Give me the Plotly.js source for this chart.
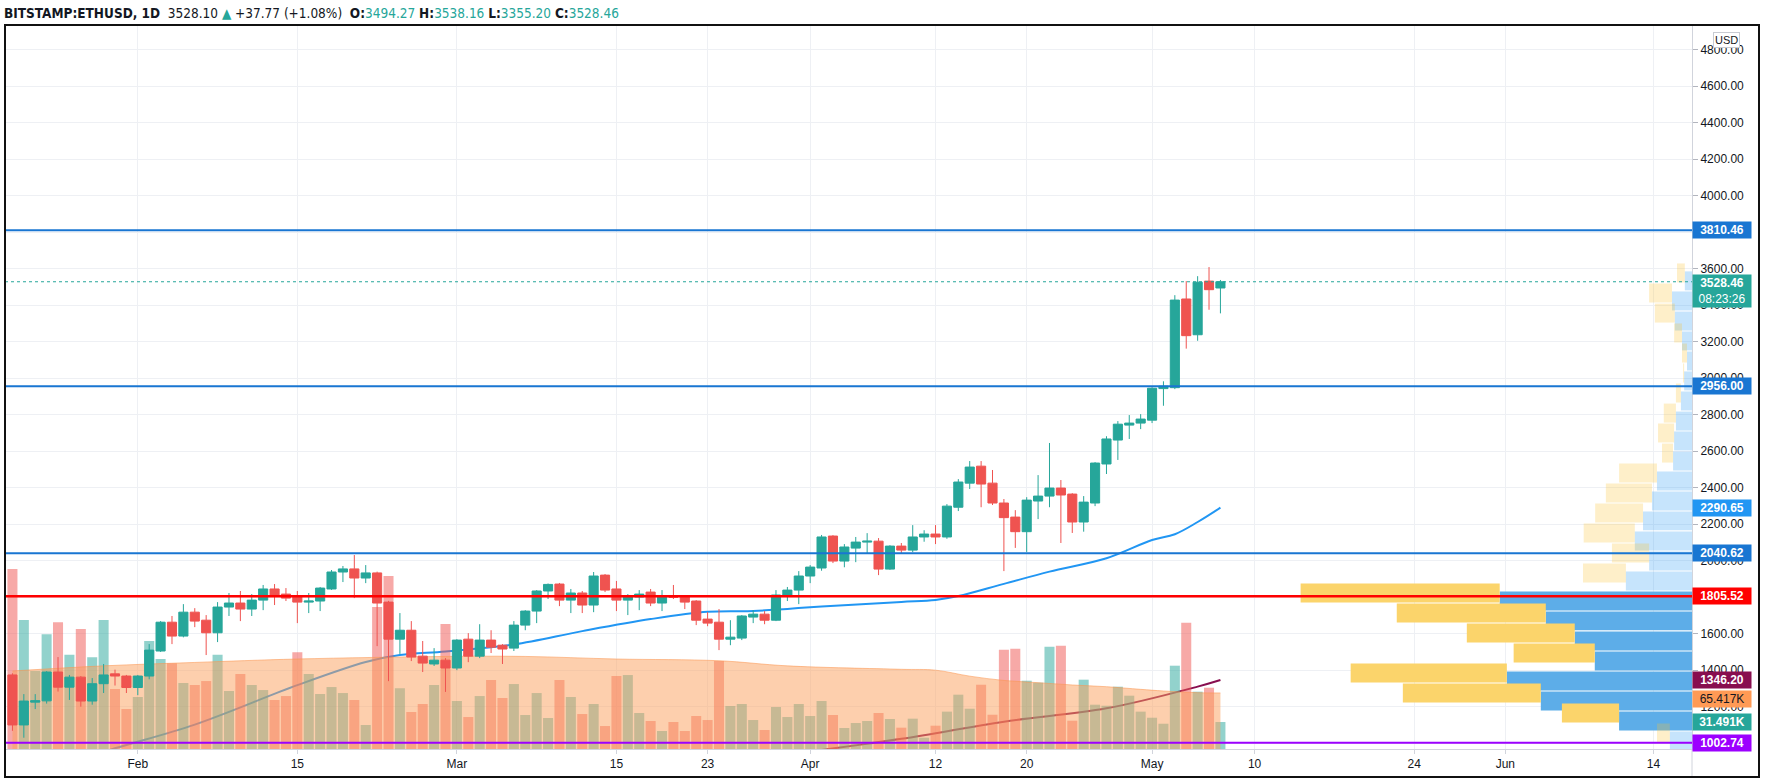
<!DOCTYPE html>
<html><head><meta charset="utf-8">
<script src="https://cdn.plot.ly/plotly-3.0.1.min.js"></script>
<style>html,body{margin:0;padding:0;background:#fff;}#chart{width:1765px;height:784px;}</style>
</head><body><div id="chart"></div>
<script>
// ---- DATA (BITSTAMP:ETHUSD, 1D, 2021-01-21 .. 2021-05-07) ----
const firstDay = '2021-01-21';
const open = [1374,1100,1225,1232,1390,1307,1362,1231,1326,1380,1368,1305,1368,1505,1663,1587,1718,1674,1605,1746,1768,1735,1784,1845,1817,1801,1773,1779,1845,1938,1955,1905,1933,1773,1570,1619,1477,1434,1455,1412,1570,1477,1565,1537,1521,1647,1724,1834,1872,1784,1823,1757,1921,1845,1784,1801,1828,1768,1806,1801,1779,1680,1663,1570,1576,1691,1707,1674,1812,1839,1916,1960,2135,1998,2069,2102,2107,1954,2080,2058,2130,2146,2130,2293,2425,2518,2425,2316,2239,2159,2327,2354,2398,2365,2212,2316,2530,2661,2743,2754,2770,2943,2948,3434,3238,3532,3494.27];
const high = [1383,1269,1269,1395,1472,1374,1368,1357,1434,1403,1374,1374,1543,1669,1697,1762,1740,1702,1773,1823,1834,1817,1867,1872,1850,1834,1823,1856,1949,1971,2031,1976,1940,1780,1713,1669,1560,1521,1466,1570,1603,1652,1619,1543,1669,1729,1839,1875,1878,1845,1834,1938,1927,1889,1817,1839,1845,1839,1867,1812,1784,1718,1735,1674,1702,1729,1724,1839,1856,1943,1976,2141,2140,2091,2130,2151,2124,2085,2097,2195,2167,2195,2310,2447,2546,2546,2497,2338,2277,2348,2469,2645,2442,2370,2354,2540,2682,2765,2798,2803,2950,2983,3455,3532,3559,3609,3538.16];
const low = [1068,1030,1187,1217,1283,1237,1200,1211,1275,1316,1275,1263,1350,1500,1543,1580,1636,1483,1554,1697,1669,1697,1729,1757,1779,1658,1713,1724,1840,1883,1795,1877,1532,1340,1489,1450,1390,1423,1281,1400,1444,1466,1494,1434,1505,1619,1658,1790,1751,1713,1713,1718,1828,1724,1702,1729,1751,1724,1790,1735,1647,1641,1510,1537,1565,1658,1652,1669,1779,1762,1877,1945,1987,1964,1992,2042,1921,1950,2042,2047,2104,2091,2120,2272,2393,2293,2305,1943,2070,2048,2228,2293,2097,2152,2159,2299,2475,2552,2667,2721,2754,2849,2940,3162,3205,3375,3355.20];
const close = [1100,1231,1233,1390,1307,1362,1231,1326,1374,1368,1305,1368,1510,1663,1587,1718,1669,1605,1746,1768,1735,1784,1845,1806,1795,1773,1779,1850,1938,1955,1905,1933,1768,1570,1619,1472,1439,1455,1412,1565,1477,1565,1526,1516,1647,1724,1834,1870,1784,1823,1757,1916,1839,1784,1801,1817,1768,1806,1800,1773,1674,1658,1570,1581,1697,1707,1674,1812,1839,1916,1965,2130,1998,2075,2102,2107,1954,2080,2058,2130,2146,2130,2299,2431,2513,2420,2316,2236,2159,2332,2354,2398,2360,2212,2321,2535,2667,2748,2754,2776,2945,2956,3428,3233,3526,3485,3528.46];
// volume, thousands of ETH
const volume = [210,150.5,91,134,148,110,140,107,150.5,70,46.7,60.7,126,105,100,77,74.7,79.3,110,67.7,87.5,74.7,68.8,57.2,61.8,113,87.5,64.2,72.3,65.3,57.2,28,165.7,201.9,70.9,43.2,52.5,74.7,145.9,56,37.3,61.8,80.5,59.5,75.8,39.7,65.3,36.2,80.5,60.7,40.8,52.5,26.8,85.2,86.3,42,32.7,21,31.5,21,38.5,33.8,102.7,50.2,52.5,33.8,22.2,49,37.3,52.5,38.5,56,39.7,24.5,30.3,32.7,42,35,24.9,35.4,13.2,27.2,43.6,63.4,47,75,40,115.9,117,79.7,77.4,119.4,120.5,33,80.9,51.7,50.5,72.7,62.2,43.6,36.5,29.5,97.2,147.4,66.9,71.5,31.491];
// volume moving average (thousands)
const volMADates = ['2021-01-21','2021-01-29','2021-02-06','2021-02-15','2021-02-28','2021-03-07','2021-03-15','2021-03-24','2021-03-30','2021-04-09','2021-04-12','2021-04-15','2021-04-18','2021-04-21','2021-04-24','2021-04-27','2021-04-30','2021-05-02','2021-05-05','2021-05-07'];
const volMA = [91,97,101,105,108,108,105,103,97,93,92,85,80,77.4,74.7,72.7,69.6,67.7,65.7,65.417];
// price moving averages
const ma50Dates = ['2021-01-21','2021-01-30','2021-02-06','2021-02-15','2021-02-21','2021-02-24','2021-02-28','2021-03-06','2021-03-12','2021-03-18','2021-03-23','2021-03-27','2021-03-30','2021-04-02','2021-04-09','2021-04-12','2021-04-14','2021-04-18','2021-04-22','2021-04-27','2021-05-01','2021-05-03','2021-05-05','2021-05-07'];
const ma50 = [800,972,1102,1318,1445,1483,1503,1541,1614,1680,1720,1724,1736,1749,1774,1785,1806,1873,1940,2013,2113,2145,2212,2290.65];
const ma200Dates = ['2021-03-30','2021-04-09','2021-04-18','2021-04-27','2021-05-05','2021-05-07'];
const ma200 = [938,1024,1118,1191,1310,1346.20];
// visible range volume profile (row centre price, up / down volume in thousands)
const profilePrice = [3555,3445,3335,3226,3116,3007,2897,2787,2678,2568,2459,2349,2240,2130,2020,1911,1801,1692,1582,1472,1363,1253,1144,1034];
const profileUp = [20,56,48,28,14,22,31,45,50,53,98,112,137,160,120,185,538,409,328,272,518,423,204,62];
const profileDown = [22,64,56,22,14,3,14,34,45,31,106,129,134,143,104,120,557,417,302,227,437,386,160,36];
const valueAreaLow = 1089, valueAreaHigh = 1856;
// horizontal levels
const blueLevels = [3810.46, 2956.00, 2040.62];
const redLevel = 1805.52;
const purpleLevel = 1002.74;
const countdown = '08:23:26';
// axis ticks (labels hidden behind level tags are left blank)
const priceTicks = [1000,1200,1400,1600,1800,2000,2200,2400,2600,2800,3000,3200,3400,3600,3800,4000,4200,4400,4600,4800];
const hiddenTicks = [1000,1800,3800];
const dateTicks = ['2021-02-01','2021-02-15','2021-03-01','2021-03-15','2021-03-23','2021-04-01','2021-04-12','2021-04-20','2021-05-01','2021-05-10','2021-05-24','2021-06-01','2021-06-14'];
const dateTickText = ['Feb','15','Mar','15','23','Apr','12','20','May','10','24','Jun','14'];
const header = {symbol:'BITSTAMP:ETHUSD, 1D', last:'3528.10', change:'+37.77 (+1.08%)'};

// ---- CHART ----
const dates = [];
(function(){ const t0 = Date.parse(firstDay+'T00:00:00Z'); for (let i=0;i<close.length;i++) dates.push(new Date(t0+i*86400000).toISOString().slice(0,10)); })();
const N = close.length;
const UP = '#26a69a', DN = '#ef5350';
const FONT = 'Liberation Sans, Arial, sans-serif';
const priceRange = [968.2, 4935.3];
const volRange = [0, 844.8];
const xRange = ['2021-01-20 08:20', '2021-06-17 09:07'];
const dayMs = 86400000;

const volColors = close.map((c,i)=> c>=open[i] ? 'rgba(38,166,154,0.5)' : 'rgba(239,83,80,0.5)');
const inVA = profilePrice.map(p => p>=valueAreaLow && p<=valueAreaHigh);
const maxRow = Math.max(...profileUp.map((u,i)=>u+profileDown[i]));
const profW = maxRow/0.232;

const traces = [
  {type:'scatter', mode:'lines', x:ma200Dates, y:ma200, xaxis:'x', yaxis:'y', line:{color:'#880e4f', width:2, shape:'spline'}, hoverinfo:'skip'},
  {type:'scatter', mode:'lines', x:ma50Dates, y:ma50, xaxis:'x', yaxis:'y', line:{color:'#2196f3', width:2, shape:'spline'}, hoverinfo:'skip'},
  {type:'bar', x:dates, y:volume, xaxis:'x', yaxis:'y2', width:0.88*dayMs, marker:{color:volColors, line:{width:0}}, hoverinfo:'skip'},
  {type:'scatter', mode:'lines', x:volMADates, y:volMA, xaxis:'x', yaxis:'y2', fill:'tozeroy', fillcolor:'rgba(251,159,91,0.5)', line:{color:'rgba(251,150,80,0.55)', width:1, shape:'spline'}, hoverinfo:'skip'},
  {type:'candlestick', x:dates, open:open, high:high, low:low, close:close, xaxis:'x', yaxis:'y3', whiskerwidth:0,
   increasing:{line:{color:UP, width:1}, fillcolor:UP}, decreasing:{line:{color:DN, width:1}, fillcolor:DN}, hoverinfo:'skip'},
  {type:'bar', orientation:'h', x:profileUp, y:profilePrice, xaxis:'x2', yaxis:'y3', width:104,
   marker:{color:inVA.map(v=>v?'#5dade8':'rgba(33,150,243,0.26)'), line:{width:0}}, hoverinfo:'skip'},
  {type:'bar', orientation:'h', x:profileDown, base:profileUp, y:profilePrice, xaxis:'x2', yaxis:'y3', width:104,
   marker:{color:inVA.map(v=>v?'#fbd46b':'rgba(251,192,45,0.26)'), line:{width:0}}, hoverinfo:'skip'}
];

const shapes = [];
blueLevels.forEach(v=>shapes.push({type:'line', xref:'paper', x0:0, x1:1, yref:'y', y0:v, y1:v, line:{color:'#1976d2', width:2}, layer:'above'}));
shapes.push({type:'line', xref:'paper', x0:0, x1:1, yref:'y', y0:redLevel, y1:redLevel, line:{color:'#ff0000', width:2.5}, layer:'above'});
shapes.push({type:'line', xref:'paper', x0:0, x1:1, yref:'y', y0:purpleLevel, y1:purpleLevel, line:{color:'#9c00ff', width:2}, layer:'above'});
const lastClose = close[N-1];
shapes.push({type:'line', xref:'paper', x0:0, x1:1, yref:'y', y0:lastClose, y1:lastClose, line:{color:UP, width:1, dash:'dot'}, layer:'above'});
// frame
const fb = -28/724, fr = (1759-5)/1687;
shapes.push({type:'line', xref:'paper', yref:'paper', x0:1, x1:1, y0:fb, y1:0, line:{color:'#d1d4dc', width:1}, layer:'above'});
shapes.push({type:'rect', xref:'paper', yref:'paper', x0:0, x1:fr, y0:fb, y1:1, line:{color:'#111', width:2}, fillcolor:'rgba(0,0,0,0)', layer:'above'});

const annotations = [];
function axisLabel(yref, y, text, bg, fg, yshift){
  annotations.push({xref:'paper', x:1, xanchor:'left', yref:yref, y:y, yanchor:'middle', yshift:yshift||0,
    text:text, showarrow:false, bgcolor:bg, borderpad:1, width:56, align:'center',
    font:{family:FONT, size:12, color:fg}});
}
blueLevels.forEach(v=>axisLabel('y', v, '<b>'+v.toFixed(2)+'</b>', '#1976d2', '#fff'));
axisLabel('y', ma50[ma50.length-1], '<b>'+ma50[ma50.length-1].toFixed(2)+'</b>', '#2196f3', '#fff');
axisLabel('y', redLevel, '<b>'+redLevel.toFixed(2)+'</b>', '#ff0000', '#fff');
axisLabel('y', ma200[ma200.length-1], '<b>'+ma200[ma200.length-1].toFixed(2)+'</b>', '#880e4f', '#fff');
axisLabel('y2', volMA[volMA.length-1], volMA[volMA.length-1].toFixed(3)+'K', '#ff9a55', '#131722', -6);
axisLabel('y2', volume[N-1], '<b>'+volume[N-1].toFixed(3)+'K</b>', UP, '#fff');
axisLabel('y', purpleLevel, '<b>'+purpleLevel.toFixed(2)+'</b>', '#9c00ff', '#fff');
annotations.push({xref:'paper', x:1, xanchor:'left', yref:'y', y:lastClose, yanchor:'top', yshift:8,
  text:'<b>'+lastClose.toFixed(2)+'</b><br>'+countdown, showarrow:false, bgcolor:UP, borderpad:1, width:56, align:'center',
  font:{family:FONT, size:12, color:'#fff'}});
annotations.push({xref:'paper', x:1, xanchor:'left', xshift:21, yref:'paper', y:1, yanchor:'top', yshift:-7,
  text:'USD', showarrow:false, bgcolor:'#fff', bordercolor:'#c8cbd2', borderwidth:1, borderpad:1,
  font:{family:FONT, size:11, color:'#131722'}});
const g = s=>'<span style="color:#26a69a">'+s+'</span>';
annotations.push({xref:'paper', x:0, xanchor:'left', xshift:-3, yref:'paper', y:1, yanchor:'bottom', yshift:2,
  text:'<b>'+header.symbol+'</b>  '+header.last+' '+g('▲')+' '+header.change+'  <b>O:</b>'+g(open[N-1].toFixed(2))+' <b>H:</b>'+g(high[N-1].toFixed(2))+' <b>L:</b>'+g(low[N-1].toFixed(2))+' <b>C:</b>'+g(close[N-1].toFixed(2)),
  showarrow:false, font:{family:'Liberation Sans Narrow, DejaVu Sans Condensed, Liberation Sans, sans-serif', size:13.5, color:'#131722'}});

const layout = {
  width:1765, height:784, margin:{l:5, r:73, t:25, b:35, pad:0},
  paper_bgcolor:'#ffffff', plot_bgcolor:'#ffffff', showlegend:false, hovermode:false,
  boxgap:0.2, boxgroupgap:0,
  font:{family:FONT, size:12, color:'#131722'},
  xaxis:{type:'date', range:xRange, tickvals:dateTicks, ticktext:dateTickText, showgrid:true, gridcolor:'#eef0f4', gridwidth:1,
    ticks:'outside', ticklen:4, tickcolor:'#d1d4dc', showline:true, linecolor:'#d1d4dc', linewidth:1, zeroline:false,
    rangeslider:{visible:false}, fixedrange:true, tickfont:{family:FONT, size:12, color:'#131722'}},
  xaxis2:{type:'linear', overlaying:'x', range:[profW, 0], visible:false, fixedrange:true},
  yaxis:{side:'right', range:priceRange, tickvals:priceTicks, ticktext:priceTicks.map(v=>hiddenTicks.includes(v)?'':v.toFixed(2)), showgrid:true, gridcolor:'#eef0f4',
    ticks:'outside', ticklen:5, tickcolor:'#b2b5be', showline:true, linecolor:'#d1d4dc', linewidth:1, zeroline:false, fixedrange:true,
    tickfont:{family:FONT, size:12, color:'#131722'}},
  yaxis2:{overlaying:'y', range:volRange, visible:false, fixedrange:true},
  yaxis3:{overlaying:'y', range:priceRange, visible:false, fixedrange:true},
  shapes:shapes, annotations:annotations
};
Plotly.newPlot('chart', traces, layout, {staticPlot:true, displayModeBar:false});
</script></body></html>
